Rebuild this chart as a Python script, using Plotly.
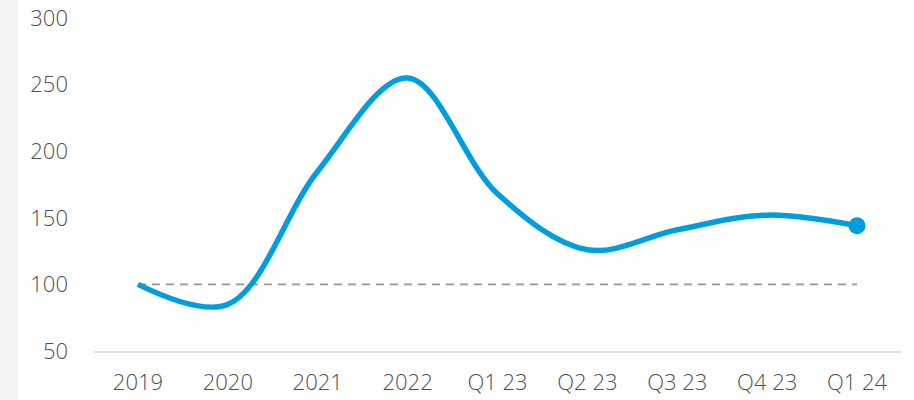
import plotly.graph_objects as go

categories = ["2019", "2020", "2021", "2022", "Q1 23", "Q2 23", "Q3 23", "Q4 23", "Q1 24"]
values = [100, 85, 185, 255, 168, 126, 141, 152, 144]
baseline = [100] * len(categories)
y_ticks = [50, 100, 150, 200, 250, 300]

W, H = 914, 400
ml, mr, mt, mb = 93, 12, 18, 49
pw = W - ml - mr

fig = go.Figure()
fig.add_trace(go.Scatter(
    x=categories, y=baseline, mode="lines",
    line=dict(color="#959595", width=1.8, dash="8px,6px"),
    hoverinfo="skip", showlegend=False))
fig.add_trace(go.Scatter(
    x=categories, y=values, mode="lines",
    line=dict(color="#009ddf", width=5.5, shape="spline", smoothing=1.0),
    showlegend=False))
fig.add_trace(go.Scatter(
    x=[categories[-1]], y=[values[-1]], mode="markers",
    marker=dict(color="#009ddf", size=17),
    showlegend=False))

fig.add_shape(type="rect", xref="paper", yref="paper",
              x0=-ml / pw, x1=-(ml - 18) / pw, y0=-mb / (H - mt - mb), y1=1 + mt / (H - mt - mb),
              fillcolor="#f1f3f5", line=dict(width=0), layer="below")

fig.update_layout(
    width=W, height=H,
    margin=dict(l=ml, r=mr, t=mt, b=mb, autoexpand=False),
    paper_bgcolor="white", plot_bgcolor="white",
    font=dict(family="Open Sans", size=22, color="#505050", weight=300),
    xaxis=dict(type="category", range=[-0.5, 8.5], showgrid=False,
               showline=True, linecolor="#e3e3e3", linewidth=2,
               ticks="", ticklabelstandoff=11, zeroline=False, automargin=False),
    yaxis=dict(range=[50, 300], tickvals=y_ticks, showgrid=False,
               showline=False, zeroline=False, ticks="",
               ticklabelstandoff=24, automargin=False),
)
fig.write_html("out.html", config={"displayModeBar": False},
               post_script="document.body.style.margin='0';document.body.style.overflow='hidden';")
